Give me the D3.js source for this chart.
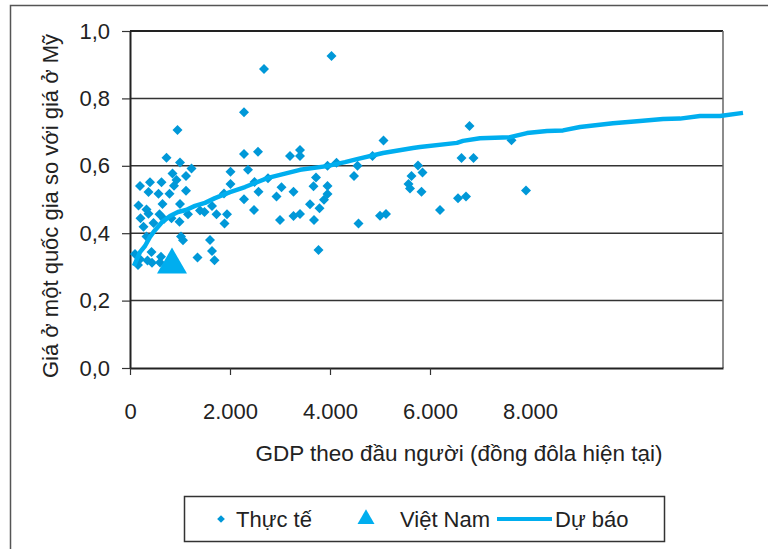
<!DOCTYPE html>
<html>
<head>
<meta charset="utf-8">
<script src="https://cdn.jsdelivr.net/npm/d3@7"></script>
<style>
  body { margin: 0; background: #fff; }
  svg text { font-family: "Liberation Sans", Arial, sans-serif; fill: #222; }
</style>
</head>
<body>
<script>
var width = 768;
var height = 549;

// observed countries: GDP per capita (current USD) and price level relative to US
var actualGdp = [4030, 2680, 2280, 950, 730, 1000, 1230, 850, 1120, 930,
  880, 200, 400, 630, 370, 570, 790, 1120, 2010, 2010,
  1880, 2280, 2560, 2360, 2490, 2570, 2280, 2760, 2930, 3030,
  3270, 3200, 3400, 3400, 3720, 3670, 3950, 3950, 3950, 4130,
  4480, 4550, 4570, 3880, 3600, 3790, 3680, 3000, 3270, 3400,
  2480, 3770, 650, 170, 330, 1000, 210, 370, 590, 680,
  830, 1160, 1400, 1490, 1640, 1730, 1940, 1890, 990, 470,
  270, 330, 1020, 1060, 1600, 1640, 1350, 1690, 100, 200,
  350, 430, 620, 600, 160, 440, 4850, 5070, 5760, 5850,
  5630, 5570, 5600, 5830, 6200, 5000, 5120, 6560, 6720, 6630,
  6870, 6790, 7630, 7920];
var actualPrice = [0.926, 0.887, 0.759, 0.706, 0.624, 0.610, 0.592, 0.577, 0.570, 0.558,
  0.541, 0.540, 0.551, 0.551, 0.522, 0.517, 0.517, 0.526, 0.582, 0.546,
  0.518, 0.635, 0.642, 0.588, 0.552, 0.523, 0.501, 0.563, 0.509, 0.536,
  0.523, 0.629, 0.647, 0.629, 0.565, 0.539, 0.540, 0.516, 0.600, 0.609,
  0.570, 0.600, 0.429, 0.499, 0.486, 0.474, 0.439, 0.439, 0.451, 0.457,
  0.469, 0.350, 0.487, 0.482, 0.470, 0.487, 0.444, 0.458, 0.456, 0.442,
  0.444, 0.456, 0.467, 0.463, 0.481, 0.456, 0.456, 0.429, 0.434, 0.430,
  0.419, 0.390, 0.390, 0.379, 0.380, 0.347, 0.328, 0.320, 0.338, 0.323,
  0.319, 0.344, 0.330, 0.313, 0.306, 0.312, 0.629, 0.675, 0.601, 0.580,
  0.570, 0.546, 0.533, 0.523, 0.469, 0.452, 0.457, 0.504, 0.509, 0.623,
  0.623, 0.718, 0.676, 0.527];

var vietnamGdp = 840;
var vietnamPrice = 0.306;

// fitted curve
var forecastGdp = [80, 200, 300, 400, 500, 660, 800, 960, 1120, 1300,
  1500, 1700, 2000, 2300, 2500, 2760, 3000, 3400, 3940, 4300,
  4540, 5060, 5660, 5800, 6540, 6660, 7000, 7600, 7940, 8340,
  8660, 9000, 9660, 10200, 10660, 11000, 11400, 11800, 12260];
var forecastPrice = [0.303, 0.344, 0.362, 0.389, 0.409, 0.436, 0.451, 0.463, 0.469, 0.481,
  0.490, 0.504, 0.522, 0.537, 0.549, 0.564, 0.573, 0.588, 0.599, 0.611,
  0.620, 0.638, 0.653, 0.656, 0.668, 0.674, 0.682, 0.685, 0.697, 0.703,
  0.705, 0.715, 0.726, 0.733, 0.739, 0.740, 0.748, 0.748, 0.757];

var yTicks = [0, 0.2, 0.4, 0.6, 0.8, 1.0];
var xTickMarks = [0, 2000, 4000, 6000];
var xTickLabels = [0, 2000, 4000, 6000, 8000];
var legendLabels = ["Thực tế", "Việt Nam", "Dự báo"];

var blue = "#0098d8";
var cyan = "#00aeef";

var vn = d3.formatLocale({decimal: ",", thousands: ".", grouping: [3], currency: ["", "đ"]});
var fmtX = vn.format(",d");
var fmtY = vn.format(".1f");

var plotL = 130, plotT = 31, plotR = 723, plotB = 368;
var x = d3.scaleLinear().domain([0, 11860]).range([plotL, plotR]);
var y = d3.scaleLinear().domain([0, 1]).range([plotB, plotT]);

var svg = d3.select("body").append("svg")
  .attr("width", width)
  .attr("height", height);

// outer frame (only top and left visible)
svg.append("path")
  .attr("d", "M10.5," + height + "V5.5H" + width)
  .attr("fill", "none")
  .attr("stroke", "#555")
  .attr("stroke-width", 1.5);

// gridlines
svg.selectAll(".grid")
  .data(yTicks.filter(function(d) { return d > 0 && d < 1; }))
  .enter().append("line")
  .attr("class", "grid")
  .attr("x1", plotL).attr("x2", plotR)
  .attr("y1", function(d) { return y(d); })
  .attr("y2", function(d) { return y(d); })
  .attr("stroke", "#333")
  .attr("stroke-width", 1.5);

// plot border: top dark, right grey
svg.append("line")
  .attr("x1", plotL).attr("x2", plotR)
  .attr("y1", plotT).attr("y2", plotT)
  .attr("stroke", "#222").attr("stroke-width", 2);
svg.append("line")
  .attr("x1", plotR).attr("x2", plotR)
  .attr("y1", plotT).attr("y2", plotB)
  .attr("stroke", "#666").attr("stroke-width", 1.5);

// y axis
var yAxis = svg.append("g")
  .attr("transform", "translate(" + plotL + ",0)")
  .call(d3.axisLeft(y).tickValues(yTicks).tickSize(8).tickSizeOuter(0).tickPadding(12).tickFormat(fmtY));
yAxis.select(".domain").attr("stroke", "#222").attr("stroke-width", 2);
yAxis.selectAll(".tick line").attr("stroke", "#333").attr("stroke-width", 1.2);
yAxis.selectAll("text").style("font-size", "22px").attr("fill", "#222");

// x axis: tick marks
var xAxis = svg.append("g")
  .attr("transform", "translate(0," + plotB + ")")
  .call(d3.axisBottom(x).tickValues(xTickMarks).tickSize(7).tickSizeOuter(0).tickFormat(""));
xAxis.select(".domain").attr("stroke", "#222").attr("stroke-width", 2);
xAxis.selectAll(".tick line").attr("stroke", "#333").attr("stroke-width", 1.2);

// x axis: labels (8.000 has no tick mark)
var xLab = svg.append("g")
  .attr("transform", "translate(0," + plotB + ")")
  .call(d3.axisBottom(x).tickValues(xTickLabels).tickSize(0).tickPadding(35).tickFormat(fmtX));
xLab.select(".domain").remove();
xLab.selectAll("text").style("font-size", "22px").attr("fill", "#222");

// axis titles
svg.append("text")
  .attr("transform", "translate(58,206) rotate(-90)")
  .attr("text-anchor", "middle")
  .style("font-size", "22px")
  .text("Giá ở một quốc gia so với giá ở Mỹ");

svg.append("text")
  .attr("x", 459)
  .attr("y", 461)
  .attr("text-anchor", "middle")
  .style("font-size", "22.5px")
  .text("GDP theo đầu người (đồng đôla hiện tại)");

// scatter
var diamond = d3.symbol().type(d3.symbolSquare).size(50);
svg.selectAll(".pt")
  .data(d3.range(actualGdp.length))
  .enter().append("path")
  .attr("class", "pt")
  .attr("d", diamond)
  .attr("transform", function(i) {
    return "translate(" + x(actualGdp[i]) + "," + y(actualPrice[i]) + ") rotate(45)";
  })
  .attr("fill", blue);

// forecast line
var line = d3.line()
  .x(function(i) { return x(forecastGdp[i]); })
  .y(function(i) { return y(forecastPrice[i]); });
svg.append("path")
  .datum(d3.range(forecastGdp.length))
  .attr("d", line)
  .attr("fill", "none")
  .attr("stroke", cyan)
  .attr("stroke-width", 4.5)
  .attr("stroke-linejoin", "round");

// Viet Nam
svg.append("path")
  .attr("d", d3.symbol().type(d3.symbolTriangle).size(390))
  .attr("transform", "translate(" + x(vietnamGdp) + "," + y(vietnamPrice) + ")")
  .attr("fill", cyan);

// legend
var lg = svg.append("g");
lg.append("rect")
  .attr("x", 184.5).attr("y", 496.5)
  .attr("width", 480).attr("height", 45)
  .attr("fill", "#fff")
  .attr("stroke", "#333")
  .attr("stroke-width", 1.5);
var ly = 519;
lg.append("path")
  .attr("d", d3.symbol().type(d3.symbolSquare).size(30))
  .attr("transform", "translate(221," + ly + ") rotate(45)")
  .attr("fill", blue);
lg.append("path")
  .attr("d", d3.symbol().type(d3.symbolTriangle).size(125))
  .attr("transform", "translate(366," + ly + ")")
  .attr("fill", cyan);
lg.append("line")
  .attr("x1", 497).attr("x2", 552)
  .attr("y1", ly).attr("y2", ly)
  .attr("stroke", cyan).attr("stroke-width", 4);
var legendX = [236, 400, 555];
lg.selectAll(".ltext")
  .data(legendLabels)
  .enter().append("text")
  .attr("class", "ltext")
  .attr("x", function(d, i) { return legendX[i]; })
  .attr("y", ly + 8)
  .style("font-size", "22px")
  .text(function(d) { return d; });
</script>
</body>
</html>
